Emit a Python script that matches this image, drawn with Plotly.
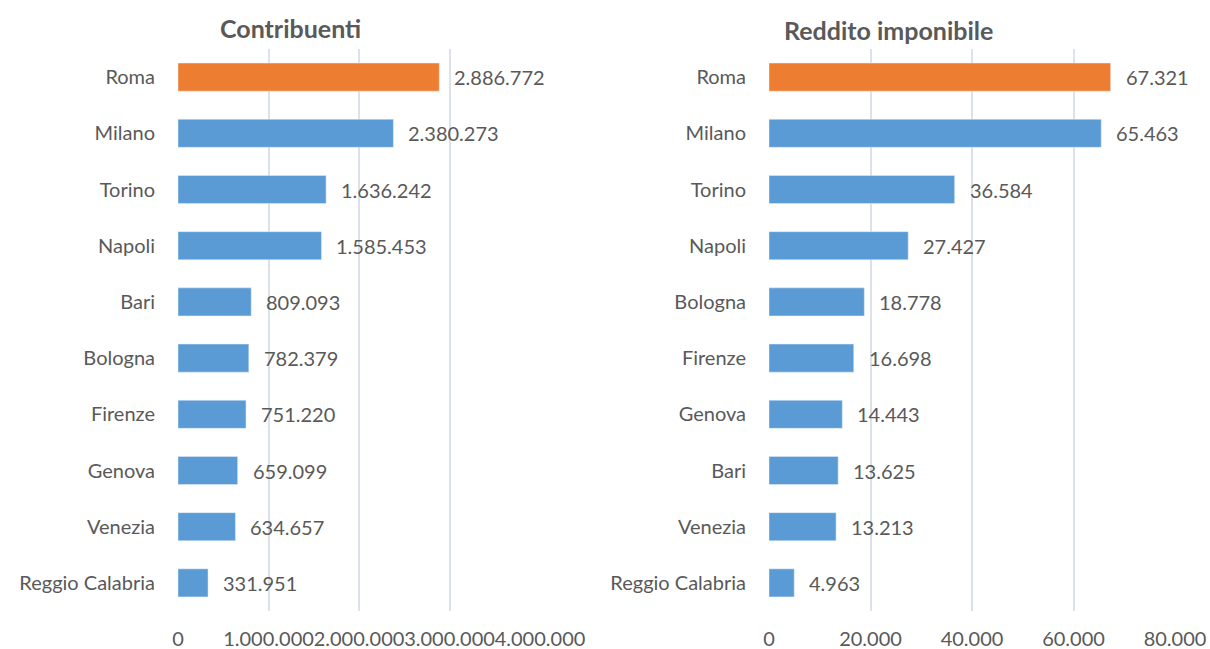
import plotly.graph_objects as go

cities_left = ["Roma", "Milano", "Torino", "Napoli", "Bari", "Bologna", "Firenze", "Genova", "Venezia", "Reggio Calabria"]
contribuenti = [2886772, 2380273, 1636242, 1585453, 809093, 782379, 751220, 659099, 634657, 331951]

cities_right = ["Roma", "Milano", "Torino", "Napoli", "Bologna", "Firenze", "Genova", "Bari", "Venezia", "Reggio Calabria"]
reddito = [67321, 65463, 36584, 27427, 18778, 16698, 14443, 13625, 13213, 4963]

left_ticks = [0, 1000000, 2000000, 3000000, 4000000]
right_ticks = [0, 20000, 40000, 60000, 80000]

ORANGE = "#ED7D31"
BLUE = "#5B9BD5"
TXT = "#595959"
GRID = "#DDE2EA"
FONT = "Lato"
FS = 20

W, H = 1210, 649

def colors(cats):
    return [ORANGE if c == "Roma" else BLUE for c in cats]

def fmt(v):
    return f"{v:,}".replace(",", ".")

fig = go.Figure()
fig.add_trace(go.Bar(x=contribuenti, y=cities_left, orientation="h", marker_color=colors(cities_left),
                     xaxis="x", yaxis="y", showlegend=False, hoverinfo="skip"))
fig.add_trace(go.Bar(x=reddito, y=cities_right, orientation="h", marker_color=colors(cities_right),
                     xaxis="x2", yaxis="y2", showlegend=False, hoverinfo="skip"))

annots = []
for c, v in zip(cities_left, contribuenti):
    annots.append(dict(x=v, y=c, xref="x", yref="y", text=fmt(v), showarrow=False, xanchor="left",
                       xshift=13, font=dict(family=FONT, size=FS, color=TXT)))
for c, v in zip(cities_right, reddito):
    annots.append(dict(x=v, y=c, xref="x2", yref="y2", text=fmt(v), showarrow=False, xanchor="left",
                       xshift=13, font=dict(family=FONT, size=FS, color=TXT)))

annots.append(dict(x=290 / W, y=1 - 28 / H, xref="paper", yref="paper", text="<b>Contribuenti</b>",
                   showarrow=False, xanchor="center", yanchor="middle", font=dict(family=FONT, size=25, color=TXT)))
annots.append(dict(x=888 / W, y=1 - 30 / H, xref="paper", yref="paper", text="<b>Reddito imponibile</b>",
                   showarrow=False, xanchor="center", yanchor="middle", font=dict(family=FONT, size=25, color=TXT)))

ydom = [(H - 611) / H, (H - 49) / H]
xcommon = dict(showgrid=True, gridcolor=GRID, gridwidth=2, zeroline=False, showline=False,
               tickangle=0, ticklabelstandoff=14, tickfont=dict(family=FONT, size=FS, color=TXT),
               fixedrange=True, automargin=False)
ycommon = dict(showgrid=False, zeroline=False, showline=False, autorange="reversed", type="category",
               ticklabelstandoff=22, tickfont=dict(family=FONT, size=FS, color=TXT), ticks="",
               automargin=False, fixedrange=True)

fig.update_layout(
    width=W, height=H, margin=dict(l=0, r=0, t=0, b=0, autoexpand=False),
    paper_bgcolor="white", plot_bgcolor="white",
    separators=",.",
    bargap=0.5,
    font=dict(family=FONT, color=TXT),
    xaxis=dict(domain=[178 / W, 540 / W], range=[0, 4000000], tickvals=left_ticks,
               ticktext=[fmt(t) for t in left_ticks], anchor="y", **xcommon),
    yaxis=dict(domain=ydom, anchor="x", **ycommon),
    xaxis2=dict(domain=[769 / W, 1175 / W], range=[0, 80000], tickvals=right_ticks,
                ticktext=[fmt(t) for t in right_ticks], anchor="y2", **xcommon),
    yaxis2=dict(domain=ydom, anchor="x2", **ycommon),
    annotations=annots,
)

fig.write_html("out.html", config={"displayModeBar": False},
               post_script="document.body.style.margin='0';document.body.style.overflow='hidden';")
